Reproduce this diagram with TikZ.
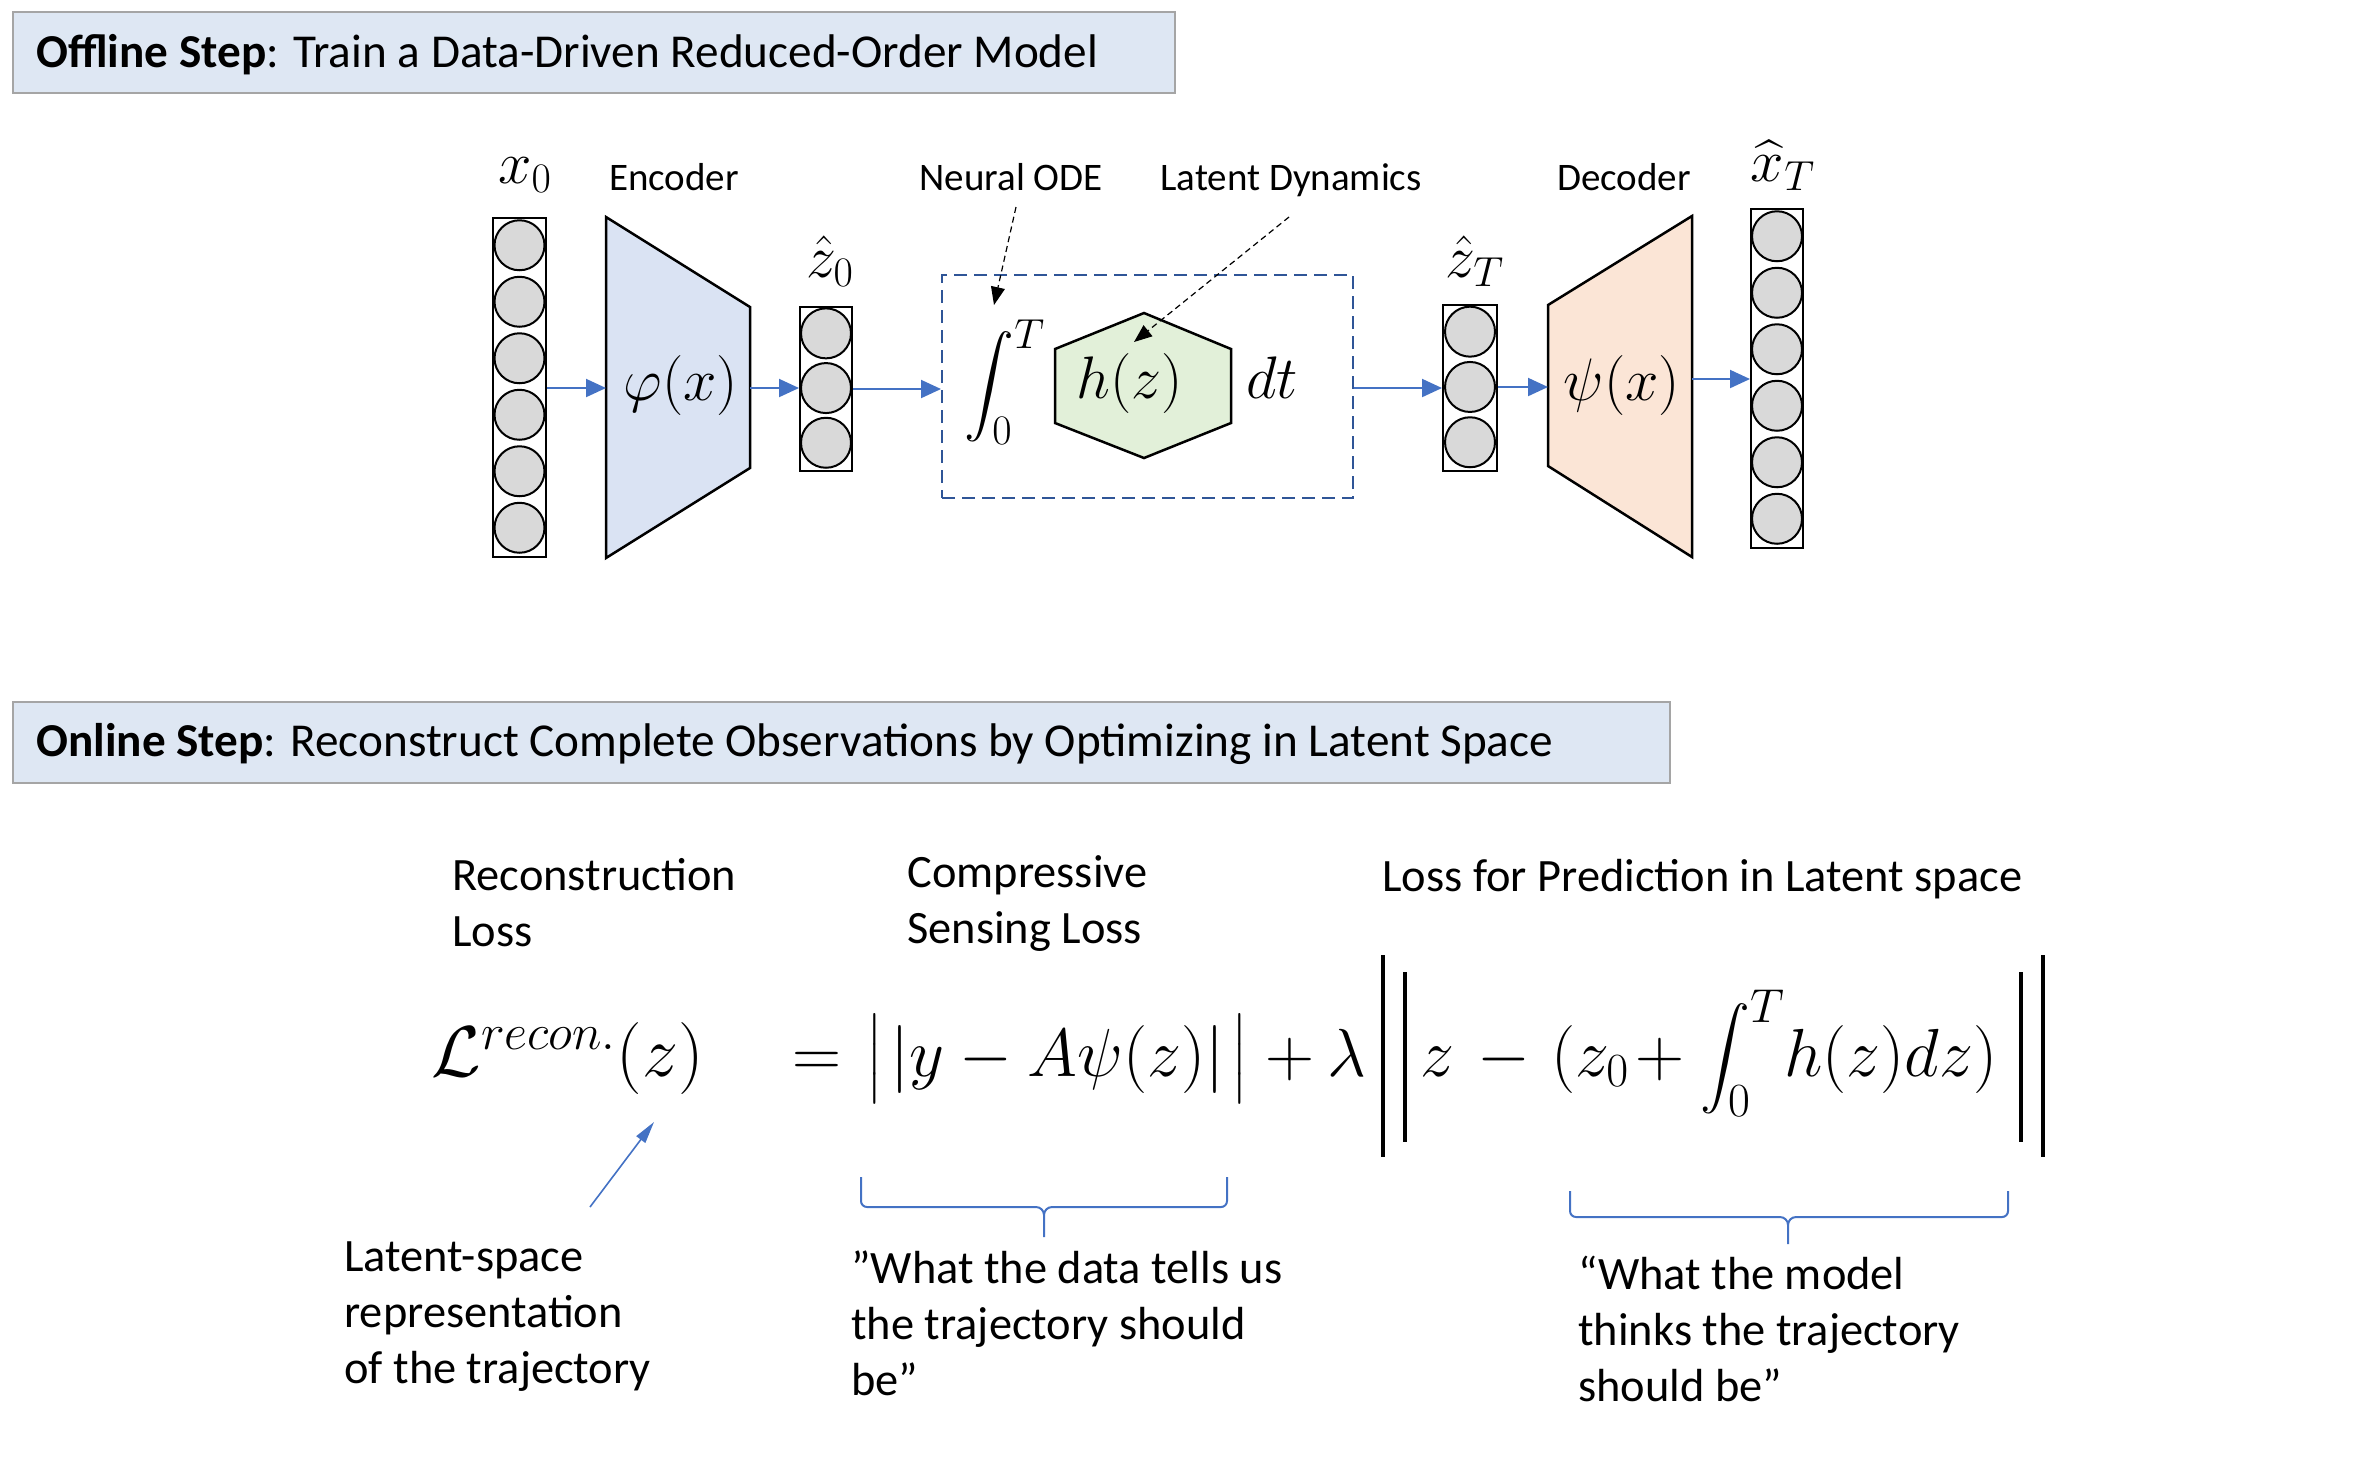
\documentclass[tikz,border=0pt]{standalone}
\usepackage{fix-cm}
\usepackage{amsmath}
\usepackage{fontspec}
\setmainfont{Carlito}
\usetikzlibrary{arrows.meta,calc}
\definecolor{tbfill}{HTML}{DEE7F3}
\definecolor{tbdraw}{HTML}{A5A5A5}
\definecolor{encfill}{HTML}{DAE3F3}
\definecolor{hexfill}{HTML}{E2F0D9}
\definecolor{decfill}{HTML}{FBE5D6}
\definecolor{neur}{HTML}{D9D9D9}
\definecolor{arrblue}{HTML}{4472C4}
\definecolor{dashblue}{HTML}{2F5597}
\begin{document}
\begin{tikzpicture}[x=0.5pt,y=-0.5pt,
  titlebox/.style={draw=tbdraw, fill=tbfill, line width=1pt, inner sep=0, anchor=north west},
  col/.style={draw=black, line width=1pt, fill=white, inner sep=0},
  neuron/.style={circle, draw=black, line width=1pt, fill=neur, minimum size=25pt, inner sep=0},
  barrow/.style={draw=arrblue, line width=1pt, -{Triangle[length=10pt,width=9pt]}},
  darrow/.style={draw=black, line width=0.6pt, dash pattern=on 3pt off 2pt, -{Triangle[length=9pt,width=7pt]}},
  brace/.style={draw=arrblue, line width=1pt},
  trap/.style={draw=black, line width=1.25pt, line join=miter},
  lab/.style={font=\fontsize{19.5}{23}\selectfont, inner sep=0},
  big/.style={font=\fontsize{23.2}{28}\selectfont, inner sep=0, align=left},
  ttl/.style={font=\fontsize{23.6}{28}\selectfont, inner sep=0},
  mtop/.style={font=\fontsize{30}{34}\selectfont, inner sep=0},
  meq/.style={font=\fontsize{34}{40}\selectfont, inner sep=0},
  nbar/.style={draw=black, line width=2.4pt}
]
\useasboundingbox (0,0) rectangle (2364,1480);

% ---------- titles ----------
\node[titlebox, minimum width=581pt, minimum height=40.5pt] (tb1) at (12,11) {};
\node[ttl, anchor=base west] (tt1) at (36,67) {\textbf{Offline Step}: Train a Data-Driven Reduced-Order Model};
\node[titlebox, minimum width=828.5pt, minimum height=40.5pt] (tb2) at (12,701) {};
\node[ttl, anchor=base west] (tt2) at (36,756) {\textbf{Online Step}: Reconstruct Complete Observations by Optimizing in Latent Space};

% ---------- columns ----------
\node[col, minimum width=26.5pt, minimum height=169.5pt] (c1) at (519.5,387.5) {};
\foreach \i in {1,...,6} \node[neuron] (c1n\i) at ($(c1.north)+(0,{(\i-0.5)*56.5})$) {};
\node[col, minimum width=26pt, minimum height=82pt] (c2) at (826,389) {};
\foreach \i in {1,...,3} \node[neuron] (c2n\i) at ($(c2.north)+(0,{(\i-0.5)*54.7})$) {};
\node[col, minimum width=27pt, minimum height=83pt] (c3) at (1470,388) {};
\foreach \i in {1,...,3} \node[neuron] (c3n\i) at ($(c3.north)+(0,{(\i-0.5)*55.3})$) {};
\node[col, minimum width=26pt, minimum height=169.5pt] (c4) at (1777,378.5) {};
\foreach \i in {1,...,6} \node[neuron] (c4n\i) at ($(c4.north)+(0,{(\i-0.5)*56.5})$) {};

% ---------- encoder / decoder ----------
\draw[trap, fill=encfill] (606,217) -- (750,307) -- (750,468) -- (606,558) -- cycle;
\coordinate (encL) at (606,388);
\coordinate (encR) at (750,388);
\node[mtop, anchor=base] (phi) at (681,400) {$\varphi(x)$};
\draw[trap, fill=decfill] (1548,305) -- (1692,216) -- (1692,557) -- (1548,466) -- cycle;
\coordinate (decL) at (1548,387);
\coordinate (decR) at (1692,379);
\node[mtop, anchor=base] (psi) at (1622,400) {$\psi(x)$};

% ---------- neural ODE block ----------
\node[draw=dashblue, dash pattern=on 6.5pt off 3.5pt, line width=1pt, minimum width=205.5pt, minimum height=111.5pt, inner sep=0] (ode) at (1147.5,386.5) {};
\draw[fill=hexfill, line width=1.25pt] (1144,313) -- (1231,349) -- (1231,423) -- (1144,458) -- (1055,423) -- (1055,349) -- cycle;
\node[mtop, anchor=base] (hz) at (1130,398) {$h(z)$};
\node[mtop, anchor=base] (dt) at (1272,398) {$dt$};
\node[font=\fontsize{30}{34}\selectfont, inner sep=0] (intg) at (1005,382) {$\displaystyle\int_0^T$};

% ---------- labels ----------
\node[mtop, anchor=base] (lx0) at (525,183) {$x_0$};
\node[mtop, anchor=base] (lz0) at (830,277) {$\hat{z}_0$};
\node[mtop, anchor=base] (lzT) at (1475,277) {$\hat{z}_T$};
\node[mtop, anchor=base] (lxT) at (1783,181) {$\widehat{x}_T$};
\node[lab, anchor=base] (lenc) at (674,190) {Encoder};
\node[lab, anchor=base] (lblode) at (1011,190) {Neural ODE};
\node[lab, anchor=base] (lbldyn) at (1291,190) {Latent Dynamics};
\node[lab, anchor=base] (ldec) at (1624,190) {Decoder};

% ---------- connectors ----------
\draw[barrow] (c1.east |- encL) -- (encL);
\draw[barrow] (encR) -- (c2.west |- encR);
\draw[barrow] (c2.east) -- (ode.west |- c2.east);
\draw[barrow] (ode.east |- c3.west) -- (c3.west);
\draw[barrow] (c3.east |- decL) -- (decL);
\draw[barrow] (decR) -- (c4.west |- decR);
\coordinate (odetip) at (994,305);
\coordinate (dyntip) at (1134,342);
\draw[darrow] ($(lblode.base)+(5,17)$) -- (odetip);
\draw[darrow] ($(lbldyn.base)+(-2,27)$) -- (dyntip);

% ---------- online step ----------
\node[big, anchor=base west] (trecon) at (452,946) {Reconstruction\\Loss};
\node[big, anchor=base west] (tcs) at (907,943) {Compressive\\Sensing Loss};
\node[big, anchor=base west] (tlp) at (1382,891) {Loss for Prediction in Latent space};

\node[meq, font=\fontsize{36}{40}\selectfont, anchor=base west] (Lrec) at (431,1076) {$\mathcal{L}^{recon.}(z)$};
\node[meq, anchor=base] (eqs) at (817,1076) {$=$};
\node[meq, anchor=base west] (nrm1) at (866,1076) {$\big|\mkern2mu|y - A\psi(z)|\mkern2mu\big|$};
\node[meq, anchor=base] (pl1) at (1290,1076) {$+$};
\node[meq, anchor=base] (lam) at (1347,1076) {$\lambda$};
\draw[nbar] (1383,955) -- (1383,1157);
\draw[nbar] (1405,972) -- (1405,1142);
\node[meq, anchor=base west] (zz) at (1420,1076) {$z$};
\node[meq, anchor=base] (mi2) at (1504,1076) {$-$};
\node[meq, anchor=base west] (pz0) at (1551,1076) {$(z_0$};
\node[meq, anchor=base] (pl2) at (1660,1076) {$+$};
\node[meq, anchor=base west] (intb) at (1700,1076) {$\displaystyle\int_0^T$};
\node[meq, anchor=base west] (hzdz) at (1784,1076) {$h(z)dz)$};
\draw[nbar] (2021,972) -- (2021,1142);
\draw[nbar] (2043,955) -- (2043,1157);

\coordinate (lsrc) at (590,1207);
\coordinate (ltip) at (654,1122);
\draw[draw=arrblue, line width=0.8pt, -{Triangle[length=11pt,width=5.5pt]}] (lsrc) -- (ltip);

% braces
\draw[brace] (861,1177) -- (861,1201) to[out=-90,in=180] (867,1207) -- (1036,1207) to[out=0,in=90] (1044,1215) -- (1044,1237);
\draw[brace] (1044,1215) to[out=90,in=180] (1052,1207) -- (1221,1207) to[out=0,in=-90] (1227,1201) -- (1227,1177);
\draw[brace] (1570,1191) -- (1570,1211) to[out=-90,in=180] (1576,1217) -- (1780,1217) to[out=0,in=90] (1788,1225) -- (1788,1244);
\draw[brace] (1788,1225) to[out=90,in=180] (1796,1217) -- (2002,1217) to[out=0,in=-90] (2008,1211) -- (2008,1191);

\node[big, anchor=base west] (tls) at (344,1383) {Latent-space\\representation\\of the trajectory};
\node[big, anchor=base west] (twd) at (851,1395) {”What the data tells us\\the trajectory should\\be”};
\node[big, anchor=base west] (twm) at (1578,1401) {“What the model\\thinks the trajectory\\should be”};
\end{tikzpicture}
\end{document}
